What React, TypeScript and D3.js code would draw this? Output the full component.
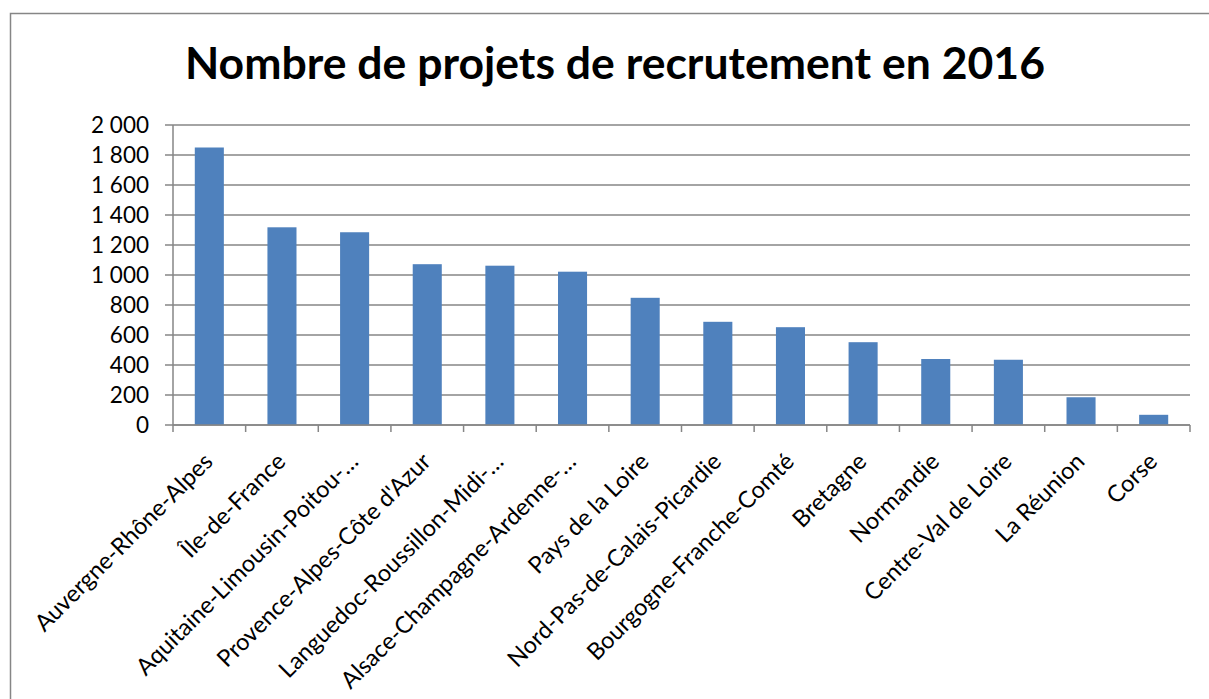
import React, { useEffect, useRef } from 'react'
import * as d3 from 'd3'

const regions: string[] = [
    'Auvergne-Rhône-Alpes',
    'Île-de-France',
    'Aquitaine-Limousin-Poitou-…',
    "Provence-Alpes-Côte d'Azur",
    'Languedoc-Roussillon-Midi-…',
    'Alsace-Champagne-Ardenne-…',
    'Pays de la Loire',
    'Nord-Pas-de-Calais-Picardie',
    'Bourgogne-Franche-Comté',
    'Bretagne',
    'Normandie',
    'Centre-Val de Loire',
    'La Réunion',
    'Corse',
]

const projets: number[] = [1850, 1318, 1285, 1072, 1062, 1022, 848, 688, 652, 552, 440, 435, 185, 68]

const yTicks: number[] = [0, 200, 400, 600, 800, 1000, 1200, 1400, 1600, 1800, 2000]

const title = 'Nombre de projets de recrutement en 2016'

const W = 1209
const H = 699
const margin = { top: 125, right: 19, bottom: 274, left: 173 }
const FONT = 'Lato, "Open Sans", sans-serif'

function App() {
    const ref = useRef<SVGSVGElement>(null)

    useEffect(() => {
        const svg = d3.select(ref.current)
        svg.selectAll('*').remove()

        const innerWidth = W - margin.left - margin.right
        const innerHeight = H - margin.top - margin.bottom

        // chart frame
        svg.append('rect')
            .attr('x', 10.5).attr('y', 13.5)
            .attr('width', W + 20).attr('height', H + 20)
            .attr('fill', 'white')
            .attr('stroke', '#868686').attr('stroke-width', 1.5)

        svg.append('text')
            .attr('x', 615).attr('y', 79)
            .attr('text-anchor', 'middle')
            .attr('font-family', FONT)
            .attr('font-weight', 'bold')
            .attr('font-size', 44)
            .attr('textLength', 860)
            .attr('lengthAdjust', 'spacingAndGlyphs')
            .attr('fill', '#000')
            .text(title)

        const x = d3.scaleBand<string>().domain(regions).range([0, innerWidth]).paddingInner(0.6).paddingOuter(0.3)
        const xb = d3.scaleBand<string>().domain(regions).range([0, innerWidth])
        const y = d3.scaleLinear().domain([0, 2000]).range([innerHeight, 0])

        const g = svg.append('g').attr('transform', `translate(${margin.left},${margin.top})`)

        // gridlines
        g.selectAll('.grid')
            .data(yTicks)
            .join('line')
            .attr('class', 'grid')
            .attr('x1', -8).attr('x2', innerWidth)
            .attr('y1', d => y(d)).attr('y2', d => y(d))
            .attr('stroke', '#868686').attr('stroke-width', 1.5)

        // y labels
        const fmt = (v: number) => d3.format(',')(v).replace(/,/g, ' ')
        g.selectAll('.ylab')
            .data(yTicks)
            .join('text')
            .attr('class', 'ylab')
            .attr('x', -24)
            .attr('y', d => y(d))
            .attr('dy', '0.36em')
            .attr('text-anchor', 'end')
            .attr('font-family', FONT)
            .attr('font-size', 22.5)
            .attr('fill', '#000')
            .text(d => fmt(d))

        // bars
        g.selectAll('.bar')
            .data(projets)
            .join('rect')
            .attr('class', 'bar')
            .attr('x', (d, i) => x(regions[i]) as number)
            .attr('width', x.bandwidth())
            .attr('y', d => y(d))
            .attr('height', d => innerHeight - y(d))
            .attr('fill', '#4F81BD')

        // axes lines
        g.append('line')
            .attr('x1', 0).attr('x2', 0).attr('y1', 0).attr('y2', innerHeight + 7)
            .attr('stroke', '#868686').attr('stroke-width', 1.5)
        g.append('line')
            .attr('x1', 0).attr('x2', innerWidth).attr('y1', innerHeight).attr('y2', innerHeight)
            .attr('stroke', '#868686').attr('stroke-width', 1.5)

        const boundaries = regions.map(r => (xb(r) as number) + xb.bandwidth())
        g.selectAll('.xtick')
            .data(boundaries)
            .join('line')
            .attr('class', 'xtick')
            .attr('x1', d => d).attr('x2', d => d)
            .attr('y1', innerHeight).attr('y2', innerHeight + 7)
            .attr('stroke', '#868686').attr('stroke-width', 1.5)

        // category labels
        g.selectAll('.xlab')
            .data(regions)
            .join('text')
            .attr('class', 'xlab')
            .attr('transform', d => `translate(${(xb(d) as number) + xb.bandwidth() / 2 + 5},${innerHeight + 38}) rotate(-45)`)
            .attr('text-anchor', 'end')
            .attr('font-family', FONT)
            .attr('font-size', 23.5)
            .attr('fill', '#000')
            .text(d => d)
    }, [])

    return (
        <div style={{ position: 'absolute', left: 0, top: 0 }}>
            <svg ref={ref} width={W} height={H} style={{ display: 'block', background: 'white' }} />
        </div>
    )
}

export default App
